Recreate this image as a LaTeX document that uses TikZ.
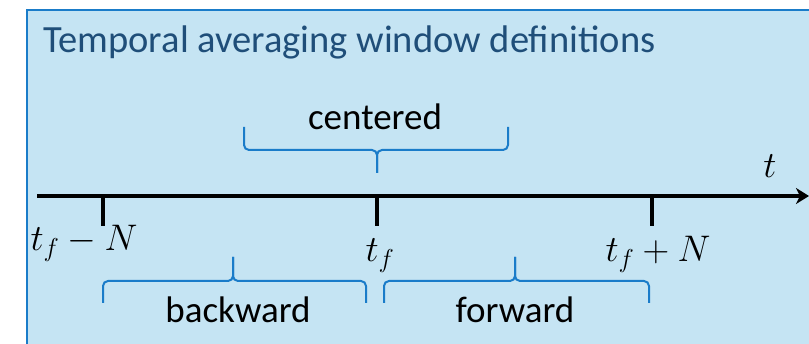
\documentclass[tikz,border=0pt]{standalone}
\usepackage{fix-cm}
\usepackage{fontspec}
\setmainfont{Carlito}
\usetikzlibrary{arrows.meta, positioning, calc}
\definecolor{cblue}{HTML}{1A7CC9}
\definecolor{lightblue}{HTML}{C5E4F3}
\definecolor{ctitle}{HTML}{1F4E79}

\begin{document}
\begin{tikzpicture}[
  x=1pt, y=-1pt,
  lbl/.style={inner sep=0pt, anchor=base, font=\fontsize{37}{42}\selectfont},
  tickline/.style={line width=4pt},
  win/.style={draw=cblue, line width=2pt, rounded corners=5pt},
  arr/.style={-{Stealth[length=13pt, width=16pt, inset=4pt]}, line width=4pt}
]
  \useasboundingbox (0,0) rectangle (809,344);
  \filldraw[fill=lightblue, draw=cblue, line width=2.5pt] (27,10) rectangle (840,370);

  \node[lbl, anchor=base west, text=ctitle, font=\fontsize{38.5}{44}\selectfont] (title) at (43,53) {Temporal averaging window definitions};

  % time axis
  \coordinate (ax0) at (37,196);
  \coordinate (ax1) at (809,196);
  \draw[arr] (ax0) -- (ax1);
  \node[lbl] (tlab) at (770,178) {$t$};

  % ticks
  \foreach \x/\n in {103/lo, 377/mid, 652/hi} {
    \coordinate (\n) at (\x,195);
    \coordinate (\n-b) at (\x,226);
    \draw[tickline] (\n) -- (\n-b);
  }
  \node[lbl] (lolab) at (84,251) {$t_f - N$};
  \node[lbl] (midlab) at (380,262) {$t_f$};
  \node[lbl] (hilab) at (658,262) {$t_f + N$};

  % windows
  \draw[win] (244,127) |- (377,150) -- (377,173);
  \draw[win] (508,127) |- (377,150) -- (377,173);
  \node[lbl] (cen) at (375,130) {centered};

  \draw[win] (103,303) |- (233,281) -- (233,257);
  \draw[win] (366,303) |- (233,281) -- (233,257);
  \node[lbl] (bwd) at (238,323) {backward};

  \draw[win] (384,303) |- (515,281) -- (515,257);
  \draw[win] (649,303) |- (515,281) -- (515,257);
  \node[lbl] (fwd) at (515,323) {forward};
\end{tikzpicture}
\end{document}
